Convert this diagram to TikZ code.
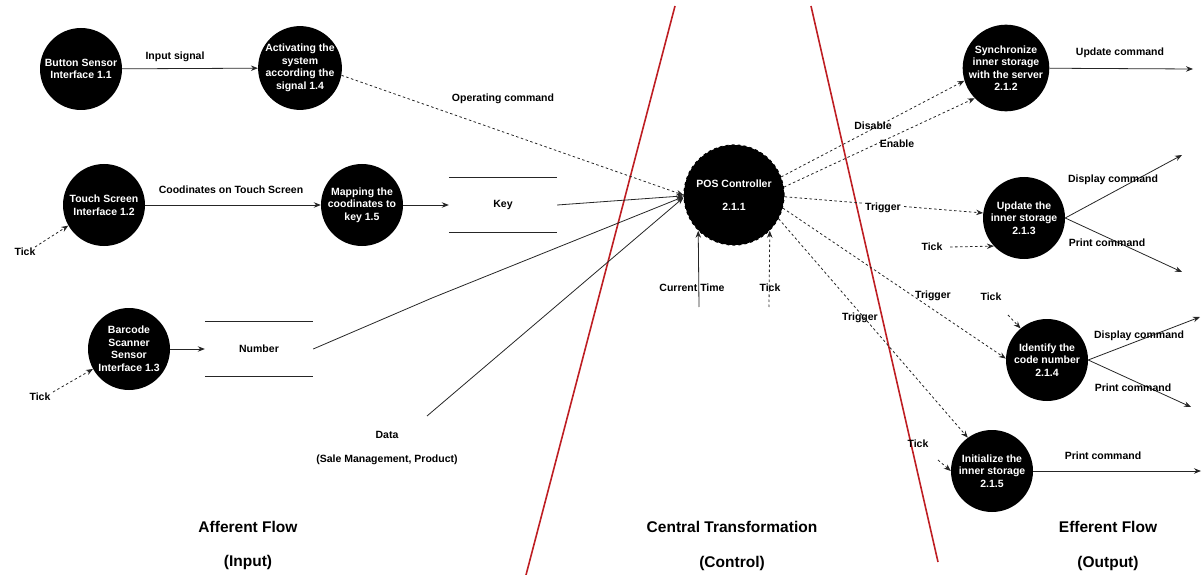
\documentclass[tikz,border=0pt]{standalone}
\usepackage{fontspec}
\setmainfont{Liberation Sans}
\usetikzlibrary{arrows.meta}
\definecolor{redline}{RGB}{190,30,35}
\tikzset{
  proc/.style={circle, fill=black, text=white, minimum size=82pt, inner sep=0pt, align=center,
    font=\fontsize{10.5}{12.5}\selectfont\bfseries},
  store/.style={minimum width=108pt, minimum height=55pt, inner sep=0pt,
    font=\fontsize{10.5}{12.5}\selectfont\bfseries},
  lbl/.style={inner sep=1pt, font=\fontsize{10.5}{12.5}\selectfont\bfseries},
  big/.style={inner sep=0pt, font=\fontsize{15.5}{18}\selectfont\bfseries},
  flow/.style={draw=black!85, line width=0.8pt, -{Stealth[length=7pt,width=5.5pt]}},
  dflow/.style={flow, dash pattern=on 2.5pt off 2.5pt},
  divider/.style={draw=redline, line width=1.6pt}
}
\begin{document}
\begin{tikzpicture}[x=1pt,y=-1pt]
\useasboundingbox (0,0) rectangle (1203,575);
% dividers
\draw[divider] (675,6) -- (526,575);
\draw[divider] (811,6) -- (938,562);
% afferent processes
\node[proc] (b11) at (81,69) {Button Sensor\\Interface 1.1};
\node[proc] (a14) at (300,68) {Activating the\\system\\according the\\signal 1.4};
\node[proc] (t12) at (104,205) {Touch Screen\\Interface 1.2};
\node[proc] (m15) at (362,205) {Mapping the\\coodinates to\\key 1.5};
\node[proc] (b13) at (129,349) {Barcode\\Scanner\\Sensor\\Interface 1.3};
% stores
\node[store] (key) at (503,205) {Key};
\draw[line width=0.8pt, black!85] (key.north west) -- (key.north east) (key.south west) -- (key.south east);
\node[store] (num) at (259,349) {Number};
\draw[line width=0.8pt, black!85] (num.north west) -- (num.north east) (num.south west) -- (num.south east);
% controller
\node[proc, minimum size=100pt, draw=black, dashed, line width=1.2pt] (pos) at (734,195) {POS Controller\\[10pt]2.1.1};
% efferent processes
\node[proc] (s212) at (1006,68) {Synchronize\\inner storage\\with the server\\2.1.2};
\node[proc] (u213) at (1024,218) {Update the\\inner storage\\2.1.3};
\node[proc] (i214) at (1047,360) {Identify the\\code number\\2.1.4};
\node[proc] (n215) at (992,471) {Initialize the\\inner storage\\2.1.5};
% free ends
\coordinate (tk12) at (35,247);
\coordinate (tk13) at (53,392);
\coordinate (bend) at (432,298);
\coordinate (data) at (427,416);
\coordinate (ct) at (699,307);
\coordinate (ctk) at (769,307);
\coordinate (o212) at (1193,69);
\coordinate (tk213) at (950,247);
\coordinate (d213) at (1182,155);
\coordinate (p213) at (1182,272);
\coordinate (tk214) at (1008,315);
\coordinate (d214) at (1200,317);
\coordinate (p214) at (1191,407);
\coordinate (tk215) at (938,460);
\coordinate (p215) at (1201,471);
% afferent connectors
\draw[flow] (b11) -- (a14);
\node[lbl] at (175,57) {Input signal};
\draw[flow] (t12) -- (m15);
\node[lbl] at (231,190) {Coodinates on Touch Screen};
\draw[flow] (m15) -- (key.west);
\draw[dflow] (tk12) -- (t12.210);
\node[lbl] at (25,252) {Tick};
\draw[flow] (b13) -- (num.west);
\draw[dflow] (tk13) -- (b13.209);
\node[lbl] at (40,397) {Tick};
\draw[dflow] (a14.-10) -- (pos.180);
\node[lbl] at (503,99) {Operating command};
\draw[flow] (key.east) -- (pos.181);
\draw[flow] (num.east) -- (bend) -- (pos.182);
\draw[flow] (data) -- (pos.183);
\node[lbl] at (387,435) {Data};
\node[lbl] at (387,460) {(Sale Management, Product)};
\draw[flow] (ct) -- (pos.225);
\node[lbl, fill=white, fill opacity=0, text opacity=1] at (692,288) {Current Time};
\draw[dflow] (ctk) -- (pos.315);
\node[lbl] at (770,288) {Tick};
% efferent connectors
\draw[dflow] (pos.21) -- (s212.197);
\node[lbl] at (873,126) {Disable};
\draw[dflow] (pos.9) -- (s212.224);
\node[lbl] at (897,144) {Enable};
\draw[flow] (s212) -- (o212);
\node[lbl] at (1120,53) {Update command};
\draw[dflow] (pos.-2) -- (u213.173);
\node[lbl, fill=white] at (883,208) {Trigger};
\draw[dflow] (tk213) -- (u213.223);
\node[lbl] at (932,247) {Tick};
\draw[flow] (u213.east) -- (d213);
\node[lbl] at (1113,180) {Display command};
\draw[flow] (u213.east) -- (p213);
\node[lbl] at (1107,243) {Print command};
\draw[dflow] (pos.-15) -- (i214.178);
\node[lbl] at (933,296) {Trigger};
\draw[dflow] (tk214) -- (i214.130);
\node[lbl] at (991,297) {Tick};
\draw[flow] (i214.east) -- (d214);
\node[lbl] at (1139,336) {Display command};
\draw[flow] (i214.east) -- (p214);
\node[lbl] at (1133,388) {Print command};
\draw[dflow] (pos.-28) -- (n215.126);
\node[lbl] at (860,318) {Trigger};
\draw[dflow] (tk215) -- (n215.180);
\node[lbl] at (918,444) {Tick};
\draw[flow] (n215) -- (p215);
\node[lbl] at (1103,456) {Print command};
% section titles
\node[big] at (248,527) {Afferent Flow};
\node[big] at (248,562) {(Input)};
\node[big] at (732,527) {Central Transformation};
\node[big] at (732,563) {(Control)};
\node[big] at (1108,527) {Efferent Flow};
\node[big] at (1108,563) {(Output)};
\end{tikzpicture}
\end{document}
